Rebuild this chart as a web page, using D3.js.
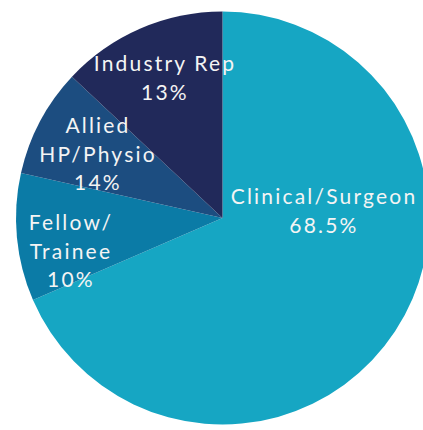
<!DOCTYPE html>
<html>
<head>
<meta charset="utf-8">
<script src="https://cdn.jsdelivr.net/npm/d3@7"></script>
<style>
  html, body { margin: 0; padding: 0; background: #fff; }
</style>
</head>
<body>
<div id="pie"></div>
<script>
  // slice data
  var categories = ['Clinical/Surgeon', 'Fellow/Trainee', 'Allied HP/Physio', 'Industry Rep'];
  var values = [68.5, 10, 8.5, 13];
  var pctLabels = ['68.5%', '10%', '14%', '13%'];
  var labelLines = [['Clinical/Surgeon'], ['Fellow/', 'Trainee'], ['Allied', 'HP/Physio'], ['Industry Rep']];

  var width = 423;
  var height = 430;
  var cx = 222.5, cy = 218, radius = 206.5;
  var colors = ['#16a6c3', '#0b7ba6', '#1c4d80', '#21295a'];
  // hand placed label anchors (centre x, first baseline)
  var labelPos = [[324, 204], [71, 230], [98, 133], [165, 71]];
  var lineHeight = 28.5;

  var svg = d3.select('#pie').append('svg')
      .attr('width', width)
      .attr('height', height);

  var pie = d3.pie().sort(null).value(d => d);
  var arc = d3.arc().innerRadius(0).outerRadius(radius);

  var g = svg.append('g')
      .attr('transform', 'translate(' + cx + ',' + cy + ')');

  g.selectAll('path')
      .data(pie(values))
      .enter()
      .append('path')
        .attr('d', arc)
        .attr('fill', (d, i) => colors[i]);

  var labels = svg.selectAll('text.lbl')
      .data(categories)
      .enter()
      .append('text')
        .attr('class', 'lbl')
        .attr('text-anchor', 'middle')
        .attr('fill', '#f4f4f4')
        .style('font-family', 'Lato, sans-serif')
        .style('font-size', '21px')
        .style('letter-spacing', '2.2px');

  labels.each(function (d, i) {
    var lines = labelLines[i].concat([pctLabels[i]]);
    var t = d3.select(this);
    lines.forEach(function (s, k) {
      t.append('tspan')
          .attr('x', labelPos[i][0])
          .attr('y', labelPos[i][1] + k * lineHeight)
          .text(s);
    });
  });
</script>
</body>
</html>
